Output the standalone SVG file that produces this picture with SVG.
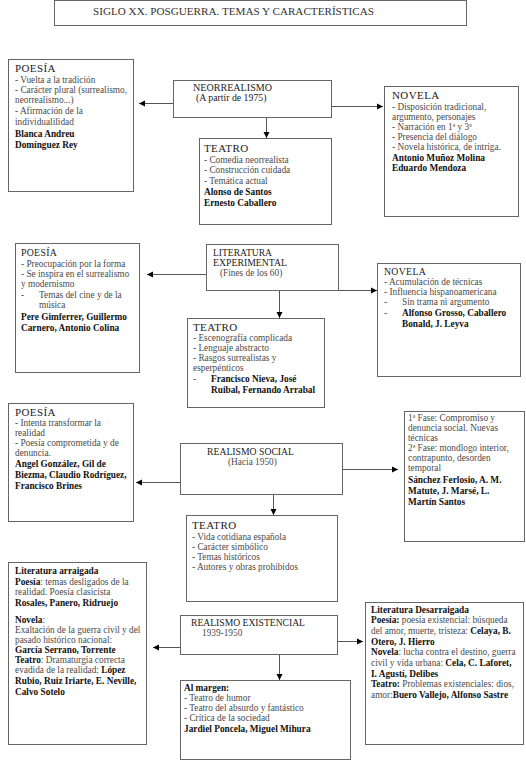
<svg xmlns="http://www.w3.org/2000/svg" width="526" height="760" viewBox="0 0 526 760">
<defs>
<marker id="arr" markerUnits="userSpaceOnUse" markerWidth="7" markerHeight="7" refX="6" refY="3.5" orient="auto">
<path d="M0,0.5 L6,3.5 L0,6.5 z" fill="#000"/>
</marker>
</defs>
<style>
.box{fill:#fff;stroke:#666;stroke-width:1}
text{font-family:"Liberation Serif","Times New Roman",serif;font-size:9.3px;fill:#4a4a4a}
.b{font-weight:bold;fill:#111}
.h{font-size:11px;fill:#222;letter-spacing:0.4px}
.hs{font-size:9.8px;fill:#222;letter-spacing:0.3px}
.m{font-size:9.8px;fill:#222}
.c line{stroke:#555;stroke-width:1;marker-end:url(#arr)}
</style>
<rect width="526" height="760" fill="#fff"/>

<g id="title">
<rect class="box" x="54.5" y="0.5" width="412" height="25" stroke="#888"/>
<text x="93" y="15" style="font-size:10.5px;fill:#333" textLength="281" lengthAdjust="spacingAndGlyphs">SIGLO XX. POSGUERRA. TEMAS Y CARACTERÍSTICAS</text>
</g>

<g class="c" id="connectors">
<line x1="173" y1="103.5" x2="139" y2="103.5"/>
<line x1="332" y1="106.5" x2="383" y2="106.5"/>
<line x1="266.5" y1="118" x2="266.5" y2="138"/>
<line x1="207" y1="274.5" x2="147" y2="274.5"/>
<line x1="339" y1="290.5" x2="377" y2="290.5"/>
<line x1="279.5" y1="290" x2="279.5" y2="318"/>
<line x1="180" y1="482.5" x2="136" y2="482.5"/>
<line x1="343" y1="469.5" x2="398" y2="469.5"/>
<line x1="273.5" y1="495" x2="273.5" y2="515"/>
<line x1="180" y1="647.5" x2="153" y2="647.5"/>
<line x1="338" y1="641.5" x2="363" y2="641.5"/>
<line x1="279.5" y1="655" x2="279.5" y2="680"/>
</g>

<g id="neorrealismo">
<rect class="box" x="173.5" y="80.5" width="158" height="37"/>
<text class="m" x="193" y="91" textLength="79" lengthAdjust="spacingAndGlyphs">NEORREALISMO</text>
<text class="m" x="196" y="101">(A partir de 1975)</text>
</g>

<g id="poesia1">
<rect class="box" x="8.5" y="59.5" width="125" height="132"/>
<text class="h" x="15" y="72">POESÍA</text>
<text x="15" y="83">- Vuelta a la tradición</text>
<text x="15" y="93">- Carácter plural (surrealismo,</text>
<text x="15" y="103">neorrealismo...)</text>
<text x="15" y="114">- Afirmación de la</text>
<text x="15" y="125">individualilidad</text>
<text class="b" x="15" y="137">Blanca Andreu</text>
<text class="b" x="15" y="148">Domínguez Rey</text>
</g>

<g id="teatro1">
<rect class="box" x="199.5" y="138.5" width="132" height="86"/>
<text class="h" x="204" y="152">TEATRO</text>
<text x="204" y="163">- Comedia neorrealista</text>
<text x="204" y="173">- Construcción cuidada</text>
<text x="204" y="184">- Temática actual</text>
<text class="b" x="204" y="195">Alonso de Santos</text>
<text class="b" x="204" y="206">Ernesto Caballero</text>
</g>

<g id="novela1">
<rect class="box" x="384.5" y="86.5" width="134" height="130"/>
<text class="h" x="392" y="99">NOVELA</text>
<text x="392" y="110">- Disposición tradicional,</text>
<text x="392" y="120">argumento, personajes</text>
<text x="392" y="130">- Narración en 1ª y 3ª</text>
<text x="392" y="140">- Presencia del diálogo</text>
<text x="392" y="150">- Novela histórica, de intriga.</text>
<text class="b" x="392" y="161">Antonio Muñoz Molina</text>
<text class="b" x="392" y="171">Eduardo Mendoza</text>
</g>

<g id="literatura-experimental">
<rect class="box" x="206.5" y="244.5" width="132" height="46"/>
<text class="m" x="213" y="256" textLength="59" lengthAdjust="spacingAndGlyphs">LITERATURA</text>
<text class="m" x="213" y="266" textLength="74" lengthAdjust="spacingAndGlyphs">EXPERIMENTAL</text>
<text x="220" y="276">(Fines de los 60)</text>
</g>

<g id="poesia2">
<rect class="box" x="15.5" y="243.5" width="124" height="129"/>
<text class="hs" x="21" y="256">POESÍA</text>
<text x="21" y="267">- Preocupación por la forma</text>
<text x="21" y="277">- Se inspira en el surrealismo</text>
<text x="21" y="287">y modernismo</text>
<text x="21" y="298">-</text>
<text x="39" y="298">Temas del cine y de la</text>
<text x="39" y="308">música</text>
<text class="b" x="21" y="320">Pere Gimferrer, Guillermo</text>
<text class="b" x="21" y="331">Carnero, Antonio Colina</text>
</g>

<g id="novela2">
<rect class="box" x="377.5" y="263.5" width="143" height="113"/>
<text class="hs" x="384" y="275">NOVELA</text>
<text x="384" y="285">- Acumulación de técnicas</text>
<text x="384" y="295">- Influencia hispanoamericana</text>
<text x="384" y="305">-</text>
<text x="402" y="305">Sin trama ni argumento</text>
<text x="384" y="316">-</text>
<text class="b" x="402" y="316">Alfonso Grosso, Caballero</text>
<text class="b" x="402" y="327">Bonald,  J. Leyva</text>
</g>

<g id="teatro2">
<rect class="box" x="187.5" y="318.5" width="137" height="89"/>
<text class="h" x="193" y="331">TEATRO</text>
<text x="193" y="341">- Escenografía complicada</text>
<text x="193" y="351">- Lenguaje abstracto</text>
<text x="193" y="361">- Rasgos surrealistas y</text>
<text x="193" y="371">esperpénticos</text>
<text x="193" y="382">-</text>
<text class="b" x="211" y="382">Francisco Nieva, José</text>
<text class="b" x="211" y="393">Ruibal, Fernando Arrabal</text>
</g>

<g id="realismo-social">
<rect class="box" x="180.5" y="443.5" width="162" height="51"/>
<text class="m" x="207" y="455" textLength="87" lengthAdjust="spacingAndGlyphs">REALISMO SOCIAL</text>
<text x="228" y="465">(Hacia 1950)</text>
</g>

<g id="poesia3">
<rect class="box" x="8.5" y="403.5" width="125" height="118"/>
<text class="h" x="15" y="416">POESÍA</text>
<text x="15" y="426">- Intenta transformar la</text>
<text x="15" y="436">realidad</text>
<text x="15" y="446">- Poesía comprometida y de</text>
<text x="15" y="456">denuncia.</text>
<text class="b" x="15" y="467">Angel González, Gil de</text>
<text class="b" x="15" y="478">Biezma, Claudio Rodríguez,</text>
<text class="b" x="15" y="489">Francisco Brines</text>
</g>

<g id="novela3">
<rect class="box" x="404.5" y="411.5" width="120" height="130"/>
<text x="408" y="421">1ª Fase: Compromiso y</text>
<text x="408" y="431">denuncia social. Nuevas</text>
<text x="408" y="441">técnicas</text>
<text x="408" y="451">2ª Fase: mondlogo interior,</text>
<text x="408" y="461">contrapunto, desorden</text>
<text x="408" y="471">temporal</text>
<text class="b" x="408" y="483">Sánchez Ferlosio, A. M.</text>
<text class="b" x="408" y="494">Matute, J. Marsé, L.</text>
<text class="b" x="408" y="505">Martín Santos</text>
</g>

<g id="teatro3">
<rect class="box" x="186.5" y="515.5" width="151" height="86"/>
<text class="h" x="192" y="529">TEATRO</text>
<text x="192" y="540">- Vida cotidiana española</text>
<text x="192" y="550">- Carácter simbólico</text>
<text x="192" y="560">- Temas históricos</text>
<text x="192" y="570">- Autores y obras prohibidos</text>
</g>

<g id="realismo-existencial">
<rect class="box" x="180.5" y="615.5" width="157" height="39"/>
<text class="m" x="191" y="626" textLength="114" lengthAdjust="spacingAndGlyphs">REALISMO EXISTENCIAL</text>
<text x="202" y="636">1939-1950</text>
</g>

<g id="literatura-arraigada">
<rect class="box" x="8.5" y="562.5" width="138" height="182"/>
<text class="b" x="15" y="574">Literatura arraigada</text>
<text x="15" y="585"><tspan class="b">Poesía</tspan>: temas desligados de la</text>
<text x="15" y="595">realidad. Poesía clasicista</text>
<text class="b" x="15" y="606">Rosales, Panero, Ridruejo</text>
<text x="15" y="623"><tspan class="b">Novela</tspan>:</text>
<text x="15" y="633">Exaltación de la guerra civil y del</text>
<text x="15" y="643">pasado histórico nacional:</text>
<text class="b" x="15" y="653">García Serrano, Torrente</text>
<text x="15" y="663"><tspan class="b">Teatro</tspan>: Dramaturgia correcta</text>
<text x="15" y="673">evadida de la realidad: <tspan class="b">López</tspan></text>
<text class="b" x="15" y="684">Rubio, Ruiz Iriarte, E. Neville,</text>
<text class="b" x="15" y="695">Calvo Sotelo</text>
</g>

<g id="al-margen">
<rect class="box" x="180.5" y="680.5" width="170" height="79"/>
<text class="b" x="184" y="691">Al margen:</text>
<text x="184" y="701">- Teatro de humor</text>
<text x="184" y="711">- Teatro del absurdo y fantástico</text>
<text x="184" y="721">- Crítica de la sociedad</text>
<text class="b" x="184" y="732">Jardiel Poncela, Miguel Mihura</text>
</g>

<g id="literatura-desarraigada">
<rect class="box" x="365.5" y="602.5" width="158" height="142"/>
<text class="b" x="371" y="613">Literatura Desarraigada</text>
<text x="371" y="623"><tspan class="b">Poesía:</tspan> poesía existencial: búsqueda</text>
<text x="371" y="634">del amor, muerte, tristeza: <tspan class="b">Celaya, B.</tspan></text>
<text class="b" x="371" y="645">Otero, J. Hierro</text>
<text x="371" y="655"><tspan class="b">Novela</tspan>: lucha contra el destino, guerra</text>
<text x="371" y="666">civil y vida urbana: <tspan class="b">Cela, C. Laforet,</tspan></text>
<text class="b" x="371" y="677">I. Agustí, Delibes</text>
<text x="371" y="687"><tspan class="b">Teatro:</tspan> Problemas existenciales: dios,</text>
<text x="371" y="698">amor:<tspan class="b">Buero Vallejo, Alfonso Sastre</tspan></text>
</g>
</svg>
